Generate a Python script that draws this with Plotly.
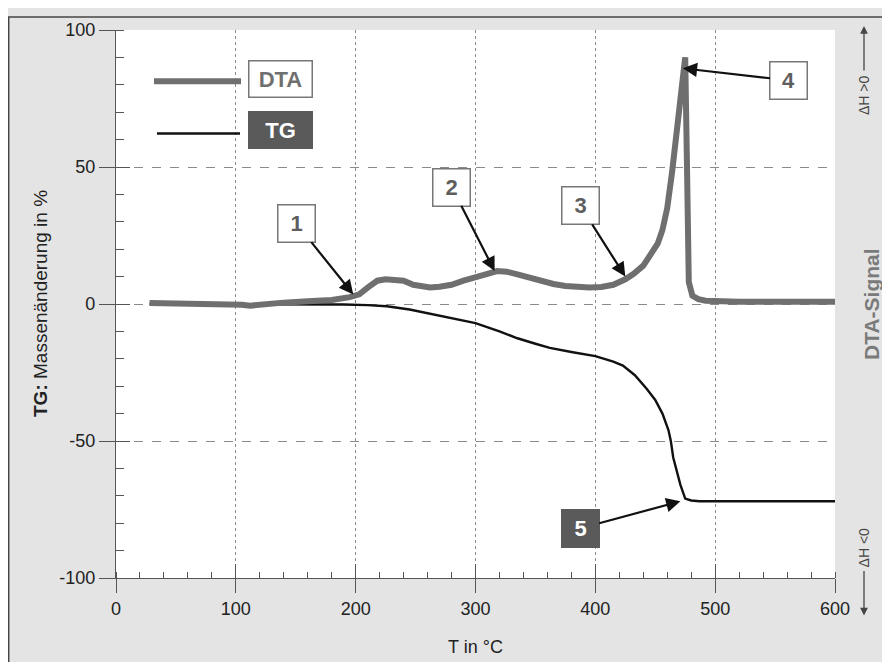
import plotly.graph_objects as go

# ---- data ----
dta_T = [28, 60, 90, 105, 112, 120, 140, 160, 180, 195, 203, 210, 218, 225, 232, 240, 248, 255,
         262, 270, 280, 290, 300, 310, 318, 326, 335, 345, 355, 365, 375, 385, 395, 405, 415,
         425, 432, 440, 446, 452, 456, 460, 464, 467, 470, 472, 474, 475, 476.5, 478, 481, 486,
         492, 500, 520, 550, 600]
dta_V = [0.4, 0.3, 0.1, -0.3, -0.6, -0.2, 0.5, 1.0, 1.5, 2.5, 3.5, 6.0, 8.5, 9.0, 9.0, 8.5, 7.0,
         6.3, 6.0, 6.3, 7.0, 8.5, 10.0, 11.0, 12.0, 11.8, 10.8, 9.5, 8.3, 7.3, 6.6, 6.2, 6.0,
         6.2, 7.0, 9.0, 11.0, 14.0, 18.0, 22.0, 27.0, 35.0, 48.0, 60.0, 72.0, 80.0, 88.0, 90.0,
         50.0, 8.0, 3.0, 1.8, 1.2, 1.0, 0.8, 0.8, 0.8]

tg_T = [28, 80, 110, 150, 190, 210, 226, 245, 260, 280, 300, 320, 335, 350, 362, 380, 400, 415,
        423, 433, 443, 450, 456, 461, 463, 465, 468, 471, 475, 480, 487, 500, 550, 600]
tg_V = [0, 0, 0, 0, -0.2, -0.4, -0.8, -2.0, -3.4, -5.0, -7.0, -10.0, -12.5, -14.5, -16.0, -17.5,
        -19.0, -21.0, -22.5, -26.0, -31.0, -35.0, -40.0, -46.0, -50.0, -56.0, -61.0, -66.0,
        -71.0, -71.7, -72.0, -72.0, -72.0, -72.0]

y_ticks = [-100, -50, 0, 50, 100]
y_ticktext = ["-100", "-50", "0", "50", "100"]

# callouts: label, T, value, offset x, offset y, dark
callouts = [
    ("1", 198, 3.5, -57, -71, False),
    ("2", 316, 12, -43, -84, False),
    ("3", 425, 10, -45, -71, False),
    ("4", 473, 86, 106, 12, False),
    ("5", 471, -72, -100, 27, True),
]

FONT = "Liberation Sans, Arial, Helvetica, sans-serif"
DTA_COL = "#6f6f6f"
DARK_BOX = "#5a5a5a"

fig = go.Figure()
fig.add_trace(go.Scatter(x=tg_T, y=tg_V, mode="lines", line=dict(color="#111111", width=2.4),
                         name="TG", hoverinfo="skip"))
fig.add_trace(go.Scatter(x=dta_T, y=dta_V, mode="lines", line=dict(color=DTA_COL, width=6),
                         name="DTA", hoverinfo="skip", xaxis="x2", yaxis="y2"))

axcol = "#555555"
fig.update_layout(
    width=890, height=662,
    margin=dict(l=108, r=63, t=14, b=92),
    paper_bgcolor="#e4e4e4",
    plot_bgcolor="white",
    showlegend=False,
    font=dict(family=FONT, size=17, color="#222222"),
    xaxis=dict(range=[0, 600], tickmode="linear", tick0=0, dtick=100,
               ticks="outside", ticklen=14, tickwidth=1.2,
               tickcolor=axcol, showline=True, linecolor=axcol, linewidth=1.2,
               showgrid=True, gridcolor="#8a8a8a", griddash="dot", gridwidth=1.3,
               zeroline=False, tickfont=dict(size=18, color="#222"),
               minor=dict(tick0=0, dtick=20, ticks="inside", ticklen=6,
                          tickwidth=1.1, tickcolor=axcol, showgrid=False)),
    yaxis=dict(range=[-100, 100], tickmode="array", tickvals=y_ticks, ticktext=y_ticktext,
               ticks="outside", ticklen=16, tickwidth=1.2,
               tickcolor=axcol, showline=True, linecolor=axcol, linewidth=1.2,
               showgrid=True, gridcolor="#8a8a8a", griddash="dash", gridwidth=1,
               zeroline=False, tickfont=dict(size=18, color="#222"),
               minor=dict(tick0=0, dtick=10, ticks="inside", ticklen=8,
                          tickwidth=1.1, tickcolor=axcol, showgrid=False)),
    xaxis2=dict(range=[0, 600], overlaying="x", anchor="y2", tickmode="linear", tick0=0,
                dtick=100, ticks="inside", ticklen=14, tickwidth=1.2, tickcolor=axcol,
                showticklabels=False, showgrid=False, zeroline=False),
    yaxis2=dict(range=[-100, 100], overlaying="y", anchor="x2", tickmode="linear", tick0=0,
                dtick=50, ticks="inside", ticklen=14, tickwidth=1.2, tickcolor=axcol,
                showticklabels=False, showgrid=False, zeroline=False),
)


def px2x(px):
    return (px - 116) / 719.0


def py2y(py):
    return (578 - py) / 556.0


# outer frame border
fig.add_shape(type="rect", xref="paper", yref="paper", x0=px2x(8.7), x1=px2x(897),
              y0=py2y(680), y1=py2y(8.7), line=dict(color="#444444", width=1.5), layer="above")

# legend
fig.add_shape(type="line", xref="paper", yref="paper", x0=px2x(154), x1=px2x(241),
              y0=py2y(74), y1=py2y(74), line=dict(color=DTA_COL, width=6))
fig.add_shape(type="line", xref="paper", yref="paper", x0=px2x(157), x1=px2x(240),
              y0=py2y(127), y1=py2y(127), line=dict(color="#111", width=2.4))
fig.add_annotation(xref="paper", yref="paper", x=px2x(280), y=py2y(71.5), text="<b>DTA</b>",
                   xanchor="center", yanchor="middle",
                   showarrow=False, font=dict(size=22, color=DTA_COL), bgcolor="white",
                   bordercolor="#777", borderwidth=1.5, width=58, height=31, borderpad=2)
fig.add_annotation(xref="paper", yref="paper", x=px2x(280), y=py2y(123.5), text="<b>TG</b>",
                   xanchor="center", yanchor="middle",
                   showarrow=False, font=dict(size=22, color="white"), bgcolor=DARK_BOX,
                   bordercolor=DARK_BOX, borderwidth=1.5, width=58, height=31, borderpad=2)

# numbered callouts
for lab, tx, vy, ox, oy, dark in callouts:
    fig.add_annotation(x=tx, y=vy, xref="x", yref="y", text="<b>%s</b>" % lab,
                       showarrow=True, ax=ox, ay=oy, arrowhead=2, arrowsize=1.3,
                       arrowwidth=2.2, arrowcolor="#111",
                       font=dict(size=22, color="white" if dark else "#5e5e5e"),
                       bgcolor=DARK_BOX if dark else "white",
                       bordercolor=DARK_BOX if dark else "#777", borderwidth=1.5,
                       width=32, height=32, borderpad=2)

# axis titles
fig.add_annotation(xref="paper", yref="paper", x=px2x(40), y=0.5, textangle=-90,
                   xanchor="center", yanchor="middle",
                   text="<b>TG:</b> Massenänderung in %", showarrow=False,
                   font=dict(size=19, color="#222"))
fig.add_annotation(xref="paper", yref="paper", x=px2x(475), y=py2y(648),
                   xanchor="center", yanchor="middle",
                   text="T in °C", showarrow=False, font=dict(size=18, color="#222"))

# right side labels
fig.add_annotation(xref="paper", yref="paper", x=px2x(871), y=0.5, textangle=-90,
                   xanchor="center", yanchor="middle",
                   text="<b>DTA-Signal</b>", showarrow=False, font=dict(size=21, color="#7a7a7a"))
fig.add_annotation(xref="paper", yref="paper", x=px2x(864), y=py2y(88), textangle=-90,
                   xanchor="center", yanchor="middle",
                   text="ΔH >0", showarrow=False, font=dict(size=14, color="#444"))
fig.add_annotation(xref="paper", yref="paper", x=px2x(864), y=py2y(547), textangle=-90,
                   xanchor="center", yanchor="middle",
                   text="ΔH <0", showarrow=False, font=dict(size=14, color="#444"))
fig.add_annotation(xref="paper", yref="paper", x=px2x(864), y=py2y(18), text="",
                   showarrow=True, ax=0, ay=46, arrowhead=2, arrowsize=1.2, arrowwidth=1.3,
                   arrowcolor="#444")
fig.add_annotation(xref="paper", yref="paper", x=px2x(864), y=py2y(616), text="",
                   showarrow=True, ax=0, ay=-46, arrowhead=2, arrowsize=1.2, arrowwidth=1.3,
                   arrowcolor="#444")

fig.write_html("out.html")
